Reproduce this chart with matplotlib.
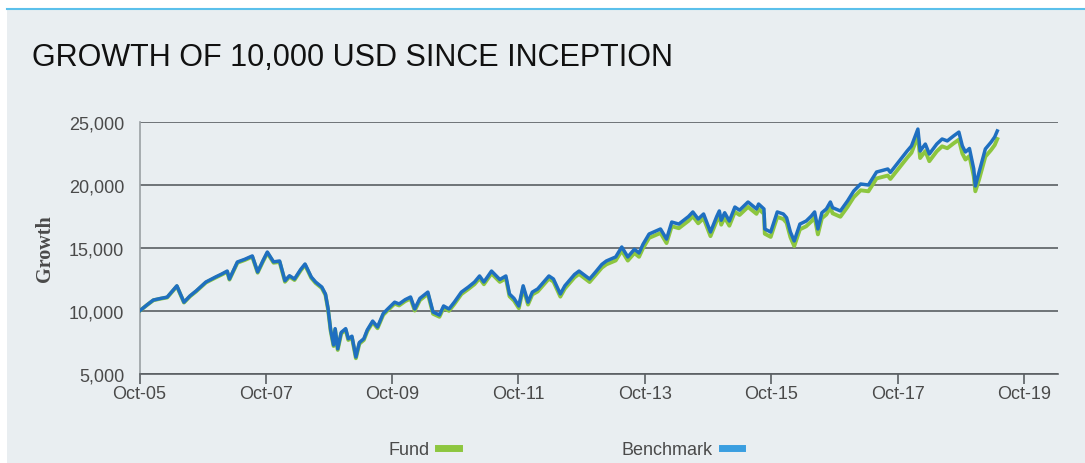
import matplotlib
matplotlib.use("Agg")
import matplotlib.pyplot as plt
from matplotlib.patches import Rectangle
from matplotlib.lines import Line2D
import pandas as pd

dates = [
    "2005-10-01", "2005-11-15", "2005-12-20", "2006-02-01", "2006-03-10", "2006-05-05",
    "2006-06-15", "2006-07-20", "2006-08-25", "2006-10-20", "2006-12-15", "2007-01-20",
    "2007-02-20", "2007-03-05", "2007-04-20", "2007-06-01", "2007-07-15", "2007-08-15",
    "2007-09-15", "2007-10-10", "2007-11-15", "2007-12-20", "2008-01-20", "2008-02-15",
    "2008-03-15", "2008-04-20", "2008-05-15", "2008-06-20", "2008-07-15", "2008-08-20",
    "2008-09-10", "2008-09-25", "2008-10-10", "2008-10-27", "2008-11-05", "2008-11-20",
    "2008-12-10", "2009-01-05", "2009-01-20", "2009-02-10", "2009-03-05", "2009-03-25",
    "2009-04-20", "2009-05-10", "2009-06-10", "2009-07-08", "2009-08-10", "2009-09-05",
    "2009-10-15", "2009-11-10", "2009-12-15", "2010-01-15", "2010-02-08", "2010-03-10",
    "2010-04-25", "2010-05-25", "2010-07-01", "2010-07-25", "2010-08-25", "2010-09-25",
    "2010-11-05", "2010-12-15", "2011-01-20", "2011-02-18", "2011-03-15", "2011-04-28",
    "2011-06-15", "2011-07-20", "2011-08-10", "2011-09-05", "2011-10-03", "2011-10-28",
    "2011-11-25", "2011-12-20", "2012-01-20", "2012-03-25", "2012-04-20", "2012-05-30",
    "2012-06-25", "2012-08-20", "2012-09-15", "2012-11-15", "2012-12-20", "2013-01-25",
    "2013-02-20", "2013-04-15", "2013-05-20", "2013-06-24", "2013-08-01", "2013-08-28",
    "2013-09-20", "2013-10-25", "2013-12-30", "2014-02-03", "2014-03-05", "2014-04-15",
    "2014-06-10", "2014-07-05", "2014-08-05", "2014-09-05", "2014-10-15", "2014-11-20",
    "2014-12-05", "2014-12-16", "2015-01-05", "2015-02-01", "2015-03-05", "2015-04-01",
    "2015-05-20", "2015-07-08", "2015-07-20", "2015-08-20", "2015-08-25", "2015-09-28",
    "2015-11-05", "2015-12-10", "2015-12-29", "2016-01-20", "2016-02-11", "2016-03-15",
    "2016-04-20", "2016-05-20", "2016-06-08", "2016-06-27", "2016-07-20", "2016-08-15",
    "2016-09-07", "2016-09-20", "2016-11-04", "2016-12-15", "2017-01-20", "2017-03-01",
    "2017-04-15", "2017-06-01", "2017-08-05", "2017-08-20", "2017-10-10", "2017-11-25",
    "2017-12-20", "2018-01-26", "2018-02-08", "2018-03-10", "2018-04-02", "2018-05-15",
    "2018-06-15", "2018-07-15", "2018-08-20", "2018-09-20", "2018-10-10", "2018-10-28",
    "2018-11-20", "2018-12-15", "2018-12-24", "2019-01-15", "2019-02-20", "2019-03-25",
    "2019-04-15", "2019-04-30",
]

benchmark = [
    10000, 10500, 10870, 11000, 11100, 12000,
    10700, 11200, 11600, 12300, 12700, 12940,
    13170, 12540, 13890, 14100, 14370, 13100,
    14000, 14680, 13900, 13970, 12400, 12800,
    12540, 13300, 13730, 12700, 12300, 11900,
    11350, 10200, 8500, 7300, 8600, 7000,
    8300, 8600, 7800, 8000, 6350, 7500,
    7800, 8500, 9200, 8730, 9800, 10160,
    10700, 10560, 10900, 11110, 10160, 11000,
    11500, 9920, 9680, 10400, 10160, 10700,
    11500, 11900, 12300, 12780, 12300, 13170,
    12500, 12780, 11350, 11000, 10400, 12000,
    10700, 11500, 11750, 12780, 12540, 11350,
    12000, 12900, 13170, 12540, 13100, 13700,
    13970, 14290, 15080, 14290, 14900, 14600,
    15300, 16110, 16510, 15710, 17060, 16900,
    17500, 17860, 17300, 17700, 16270, 17500,
    17940, 17200, 17800, 17140, 18250, 18000,
    18650, 18100, 18490, 18100, 16510, 16270,
    17860, 17700, 17400, 16270, 15560, 16900,
    17140, 17540, 17860, 16510, 17800, 18100,
    18650, 18200, 17940, 18730, 19520, 20080,
    20000, 21030, 21270, 21000, 21900, 22700,
    23100, 24440, 22700, 23250, 22460, 23250,
    23650, 23500, 23890, 24200, 23100, 22620,
    22900, 21270, 19920, 21030, 22860, 23400,
    23810, 24290,
]

fund = [
    10000, 10490, 10850, 10980, 11070, 11960,
    10670, 11160, 11560, 12260, 12650, 12890,
    13110, 12490, 13830, 14040, 14300, 13040,
    13930, 14600, 13830, 13890, 12320, 12720,
    12460, 13220, 13650, 12620, 12220, 11820,
    11270, 10120, 8420, 7220, 8510, 6910,
    8210, 8500, 7700, 7900, 6250, 7400,
    7700, 8400, 9100, 8630, 9690, 10050,
    10580, 10440, 10780, 10980, 10030, 10860,
    11360, 9780, 9540, 10250, 10010, 10550,
    11340, 11740, 12130, 12600, 12120, 12980,
    12310, 12590, 11170, 10820, 10220, 11810,
    10510, 11310, 11550, 12570, 12330, 11140,
    11780, 12670, 12940, 12300, 12860, 13440,
    13700, 14010, 14790, 14000, 14600, 14300,
    14990, 15800, 16190, 15390, 16730, 16570,
    17160, 17520, 16960, 17360, 15940, 17160,
    17590, 16850, 17430, 16770, 17870, 17620,
    18260, 17710, 18100, 17710, 16130, 15880,
    17460, 17300, 17000, 15860, 15150, 16480,
    16720, 17110, 17430, 16080, 17360, 17660,
    18200, 17750, 17480, 18260, 19030, 19580,
    19500, 20520, 20750, 20480, 21370, 22160,
    22560, 23890, 22140, 22690, 21890, 22670,
    23070, 22920, 23300, 23600, 22500, 22020,
    22300, 20690, 19500, 20450, 22250, 22780,
    23170, 23650,
]

y_ticks = [5000, 10000, 15000, 20000, 25000]
x_tick_labels = ["Oct-05", "Oct-07", "Oct-09", "Oct-11", "Oct-13", "Oct-15", "Oct-17", "Oct-19"]
x_tick_dates = ["2005-10-01", "2007-10-01", "2009-10-01", "2011-10-01",
                "2013-10-01", "2015-10-01", "2017-10-01", "2019-10-01"]

BG = "#e9eef1"
FUND_C = "#8dc63f"
BENCH_C = "#1f6fc0"
BENCH_LEG = "#3a9ee0"
GRID_C = "#5a5f63"
TXT_C = "#4a4a4a"

plt.rcParams['font.family'] = ['Liberation Sans', 'DejaVu Sans']

fig = plt.figure(figsize=(10.85, 4.64), dpi=100)
fig.patch.set_facecolor("white")
fig.add_artist(Rectangle((7/1085, 0), 1 - 7/1085, 1 - 10/464, transform=fig.transFigure,
                         facecolor=BG, edgecolor="none", zorder=-10))
fig.add_artist(Line2D([7/1085, 1], [1 - 10/464, 1 - 10/464], transform=fig.transFigure,
                      color="#5bc0eb", lw=1.5))

ax = fig.add_axes([139.5/1085, 1 - 375/464, (1058 - 139.5)/1085, (375 - 123)/464])
ax.set_facecolor(BG)

dts = pd.to_datetime(dates)
ax.plot(dts, fund, color=FUND_C, lw=2.8, solid_joinstyle="round", zorder=3)
ax.plot(dts, benchmark, color=BENCH_C, lw=2.5, solid_joinstyle="round", zorder=4)

ax.set_ylim(5000, 25000)
ax.set_xlim(pd.Timestamp("2005-10-01"), pd.Timestamp("2020-04-15"))
ax.set_yticks(y_ticks)
ax.set_yticklabels([f"{v:,}" for v in y_ticks])
ax.set_xticks(pd.to_datetime(x_tick_dates))
ax.set_xticklabels(x_tick_labels)

ax.grid(axis="y", color=GRID_C, lw=1.2)
ax.set_axisbelow(True)
for s in ["top", "right"]:
    ax.spines[s].set_visible(False)
ax.spines["left"].set_color("#9aa0a4")
ax.spines["left"].set_linewidth(1.2)
ax.spines["bottom"].set_color(GRID_C)
ax.spines["bottom"].set_linewidth(1.2)
ax.tick_params(axis="y", length=0, pad=11, labelsize=13, labelcolor=TXT_C)
ax.tick_params(axis="x", length=7, width=1.2, color=GRID_C, pad=1, labelsize=13, labelcolor=TXT_C)

ax.set_ylabel("Growth", family=["Liberation Serif", "DejaVu Serif"], fontweight="bold",
              fontsize=14.5, color=TXT_C, labelpad=10)

fig.text(32/1085, 1 - 58/464, "GROWTH OF 10,000 USD SINCE INCEPTION", fontsize=22,
         color="#111111", va="center", ha="left")

handles = [Line2D([], [], color=FUND_C, lw=5), Line2D([], [], color=BENCH_LEG, lw=5)]
leg = fig.legend(handles, ["Fund", "Benchmark"], loc="center", ncol=2,
                 bbox_to_anchor=(0.521, 1 - 451/464), frameon=False, markerfirst=False,
                 handlelength=1.15, handletextpad=0.5, columnspacing=9, fontsize=13,
                 borderpad=0.1)
for t in leg.get_texts():
    t.set_color(TXT_C)

fig.savefig("out.png", dpi=100, facecolor=fig.get_facecolor())
